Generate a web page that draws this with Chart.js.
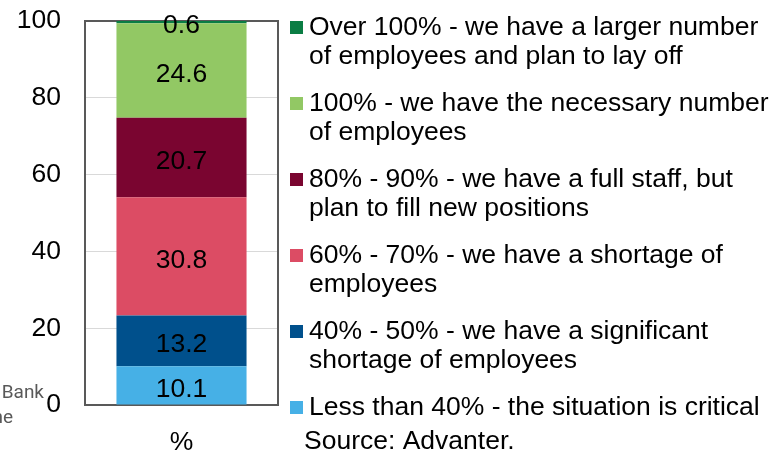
<!DOCTYPE html>
<html>
<head>
<meta charset="utf-8">
<script src="https://cdn.jsdelivr.net/npm/chart.js@4.4.0/dist/chart.umd.min.js"></script>
<style>
  html, body { margin: 0; padding: 0; background: #fff; }
  #wrap { position: relative; width: 778px; height: 453px; overflow: hidden; }
</style>
</head>
<body>
<div id="wrap"><canvas id="chart" width="778" height="453"></canvas></div>
<script>
// data
const categories = ['%'];
const seriesNames = [
  'Less than 40% - the situation is critical',
  '40% - 50% - we have a significant shortage of employees',
  '60% - 70% - we have a shortage of employees',
  '80% - 90% - we have a full staff, but plan to fill new positions',
  '100% - we have the necessary number of employees',
  'Over 100% - we have a larger number of employees and plan to lay off'
];
// how each legend entry breaks into lines (same order as seriesNames)
const legendLines = [
  ['Less than 40% - the situation is critical'],
  ['40% - 50% - we have a significant', 'shortage of employees'],
  ['60% - 70% - we have a shortage of', 'employees'],
  ['80% - 90% - we have a full staff, but', 'plan to fill new positions'],
  ['100% - we have the necessary number', 'of employees'],
  ['Over 100% - we have a larger number', 'of employees and plan to lay off']
];
const lessThan40 = [10.1];
const from40to50 = [13.2];
const from60to70 = [30.8];
const from80to90 = [20.7];
const full100 = [24.6];
const over100 = [0.6];
const yTicks = [0, 20, 40, 60, 80, 100];
const sourceText = 'Source: Advanter.';

const colors = ['#46b0e6', '#00508c', '#dc4c64', '#7a0530', '#92c864', '#0a7d44'];
const FONT = '"Liberation Sans", Arial, sans-serif';
const FSIZE = 26.5;

const seriesValues = [lessThan40, from40to50, from60to70, from80to90, full100, over100];

// frame round the plot area
const framePlugin = {
  id: 'frame',
  beforeDatasetsDraw(chart) {
    const a = chart.chartArea, ctx = chart.ctx;
    ctx.save();
    ctx.strokeStyle = '#595959';
    ctx.lineWidth = 2;
    ctx.strokeRect(a.left, a.top, a.right - a.left, a.bottom - a.top);
    ctx.restore();
  }
};

// values inside segments
const valueLabels = {
  id: 'valueLabels',
  afterDatasetsDraw(chart) {
    const ctx = chart.ctx;
    ctx.save();
    ctx.font = FSIZE + 'px ' + FONT;
    ctx.fillStyle = '#000';
    ctx.textAlign = 'center';
    ctx.textBaseline = 'middle';
    chart.data.datasets.forEach((ds, i) => {
      chart.getDatasetMeta(i).data.forEach((bar, j) => {
        const p = bar.getProps(['x', 'y', 'base'], true);
        ctx.fillText(ds.data[j].toFixed(1), p.x, (p.y + p.base) / 2 + 4);
      });
    });
    ctx.restore();
  }
};

// legend on the right + source + cut-off note on the left
const sideText = {
  id: 'sideText',
  afterDraw(chart) {
    const ctx = chart.ctx;
    ctx.save();
    ctx.font = FSIZE + 'px ' + FONT;
    ctx.textBaseline = 'middle';
    ctx.textAlign = 'left';
    const n = legendLines.length;
    for (let k = 0; k < n; k++) {
      const i = n - 1 - k;           // top entry is the last series
      const y0 = 28 + k * 76;
      ctx.fillStyle = colors[i];
      ctx.fillRect(290, y0 - 7, 13, 13);
      ctx.fillStyle = '#000';
      legendLines[i].forEach((line, li) => ctx.fillText(line, 309, y0 + li * 29));
    }
    ctx.fillText(sourceText, 304, 442);

    ctx.font = '19px Roboto, sans-serif';
    ctx.fillStyle = '#595959';
    ctx.textAlign = 'right';
    ctx.fillText('Bank', 44, 393);
    ctx.fillText('ne', 13, 418);
    ctx.restore();
  }
};

new Chart(document.getElementById('chart').getContext('2d'), {
  type: 'bar',
  data: {
    labels: categories,
    datasets: seriesNames.map((name, i) => ({
      label: name,
      data: seriesValues[i],
      backgroundColor: colors[i],
      borderWidth: 0,
      categoryPercentage: 1,
      barPercentage: 0.674
    }))
  },
  options: {
    responsive: false,
    animation: false,
    devicePixelRatio: 1,
    layout: { padding: { top: 21, right: 500, left: 0, bottom: 0 } },
    plugins: { legend: { display: false }, tooltip: { enabled: false } },
    scales: {
      x: {
        stacked: true,
        grid: { display: false, drawTicks: false },
        border: { display: false },
        ticks: { color: '#000', font: { size: FSIZE, family: FONT }, padding: 22 },
        afterFit(s) { s.height = 48; s.paddingLeft = 0; s.paddingRight = 0; }
      },
      y: {
        stacked: true,
        min: 0,
        max: 100,
        afterBuildTicks(s) { s.ticks = yTicks.map(v => ({ value: v })); },
        grid: { color: '#d9d9d9', lineWidth: 1, drawTicks: false },
        border: { display: false },
        ticks: { color: '#000', font: { size: FSIZE, family: FONT }, padding: 24 },
        afterFit(s) { s.width = 85; s.paddingTop = 0; s.paddingBottom = 0; }
      }
    }
  },
  plugins: [framePlugin, valueLabels, sideText]
});
</script>
</body>
</html>
